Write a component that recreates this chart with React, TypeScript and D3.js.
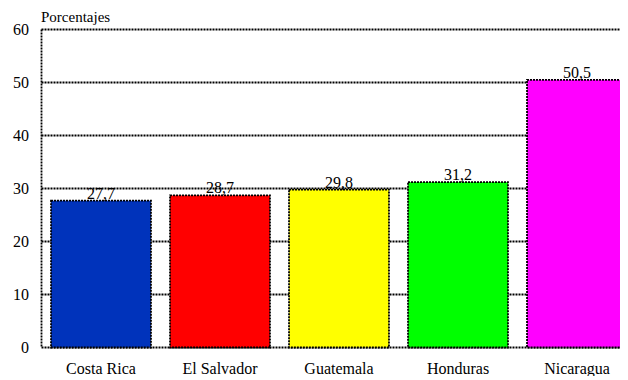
import React from "react";
import * as d3 from "d3";

const countries = ["Costa Rica", "El Salvador", "Guatemala", "Honduras", "Nicaragua"];
const values = [27.7, 28.7, 29.8, 31.2, 50.5];
const barColors = ["#0033bb", "#ff0000", "#ffff00", "#00ff00", "#ff00ff"];
const yTicks = [0, 10, 20, 30, 40, 50, 60];
const yTitle = "Porcentajes";

const W = 628;
const H = 380;
const left = 41.5;
const top = 29.5;
const bottom = 347.5;
const band = 119;

const serif = "Liberation Serif";

export default function App() {
  const x = d3
    .scaleBand<string>()
    .domain(countries)
    .range([left, left + band * countries.length])
    .paddingInner(0.16)
    .paddingOuter(0.08);
  const y = d3.scaleLinear().domain([0, 60]).range([bottom, top]);
  const fmt = (v: number) => v.toFixed(1).replace(".", ",");
  const right = left + band * countries.length;
  const dash = "2,1";
  const txt = { fontFamily: `"${serif}"` };

  return (
    <div style={{ margin: -8 }}>
      <svg width={W} height={H} className="chart">
        <style>{`.chart text { font-family: "${serif}", "Times New Roman", serif; }`}</style>
        <rect width={W} height={H} fill="#fff" />
        {/* horizontal gridlines */}
        {yTicks.map((t) => (
          <line
            key={t}
            x1={left}
            x2={right}
            y1={y(t)}
            y2={y(t)}
            stroke="#000"
            strokeWidth={1.8}
            strokeDasharray={dash}
          />
        ))}
        {/* left axis */}
        <line x1={left} x2={left} y1={top} y2={bottom} stroke="#000" strokeWidth={1.8} strokeDasharray={dash} />
        {yTicks.map((t) => (
          <text key={t} x={29} y={y(t) + 5} fontSize={16} textAnchor="end" fill="#000" style={txt}>
            {t}
          </text>
        ))}
        <text x={41} y={22} fontSize={15} fill="#000" style={txt}>
          {yTitle}
        </text>
        {/* bars */}
        {countries.map((c, i) => (
          <g key={c}>
            <rect
              x={x(c)}
              y={y(values[i])}
              width={x.bandwidth()}
              height={bottom - y(values[i])}
              fill={barColors[i]}
              stroke="#000"
              strokeWidth={1.8}
              strokeDasharray={dash}
            />
            <text
              x={(x(c) as number) + x.bandwidth() / 2}
              y={y(values[i]) - 2}
              fontSize={16}
              textAnchor="middle"
              fill="#000"
              style={txt}
            >
              {fmt(values[i])}
            </text>
            <text
              x={(x(c) as number) + x.bandwidth() / 2}
              y={374}
              fontSize={16}
              textAnchor="middle"
              fill="#000"
              style={txt}
            >
              {c}
            </text>
          </g>
        ))}
      </svg>
    </div>
  );
}
